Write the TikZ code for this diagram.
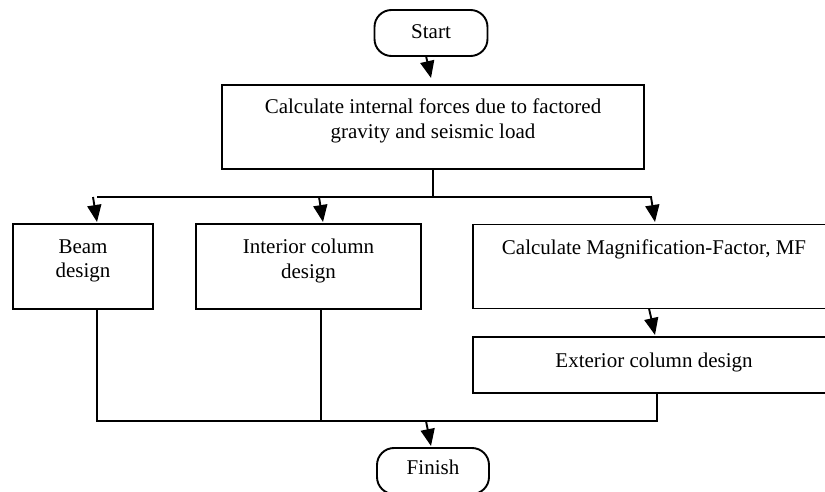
\documentclass[tikz,border=0pt]{standalone}
\usepackage{fontspec}
\setmainfont{Liberation Serif}
\usetikzlibrary{arrows.meta}
\begin{document}
\begin{tikzpicture}[x=1pt,y=-1pt,
  every node/.style={inner sep=0pt, outer sep=0pt},
  box/.style={draw, line width=1.9pt, rectangle},
  term/.style={draw, line width=1.9pt, rounded corners=17pt},
  txt/.style={font=\fontsize{21}{24.5}\selectfont, align=center},
  conn/.style={line width=1.9pt},
  arr/.style={line width=1.9pt, -{Triangle[length=17pt,width=14pt]}}
]
\useasboundingbox (0,0) rectangle (825,492);
\clip (0,0) rectangle (825,492);
% boxes
\node[term, minimum width=113pt, minimum height=46pt] (start) at (431,33) {};
\node[txt] (startt) at (431,32) {Start};
\node[box, minimum width=422pt, minimum height=84pt] (calc) at (433,127) {};
\node[txt] (calct) at (433,121) {Calculate internal forces due to factored\\gravity and seismic load};
\node[box, minimum width=140pt, minimum height=85pt] (beam) at (83,266.5) {};
\node[txt] (beamt) at (83,261) {Beam\\design};
\node[box, minimum width=225pt, minimum height=85pt] (inter) at (308.5,266.5) {};
\node[txt] (intert) at (308.5,261) {Interior column\\design};
\node[box, minimum width=362pt, minimum height=84pt] (mf) at (654,266.5) {};
\node[txt] (mft) at (654,249) {Calculate Magnification-Factor, MF};
\node[box, minimum width=362pt, minimum height=56pt] (ext) at (654,365) {};
\node[txt] (extt) at (654,362) {Exterior column design};
\node[term, minimum width=112pt, minimum height=46pt] (fin) at (433,471) {};
\node[txt] (fint) at (433,467) {Finish};
% junction coordinates
\coordinate (s1) at (426,56);
\coordinate (c1) at (433,169);
\coordinate (b0) at (433,197);
\coordinate (bl) at (97,197);
\coordinate (br) at (652,197);
\coordinate (a1) at (93,197);
\coordinate (a1t) at (97,222);
\coordinate (a2) at (319,197);
\coordinate (a2t) at (323,222);
\coordinate (a3) at (651,197);
\coordinate (a3t) at (655,222);
\coordinate (m1) at (649,308.5);
\coordinate (m1t) at (655,335);
\coordinate (d1) at (97,309);
\coordinate (d2) at (321,309);
\coordinate (d3) at (657,393);
\coordinate (e1) at (97,421);
\coordinate (e2) at (321,421);
\coordinate (e3) at (657,421);
\coordinate (f1) at (426,421);
\coordinate (f1t) at (431,446);
\coordinate (s1t) at (431,78);
% connectors
\draw[arr] (s1) -- (s1t);
\draw[conn] (c1) -- (b0);
\draw[conn] (bl) -- (br);
\draw[arr] (a1) -- (a1t);
\draw[arr] (a2) -- (a2t);
\draw[arr] (a3) -- (a3t);
\draw[arr] (m1) -- (m1t);
\draw[conn] (d1) -- (e1) -- (e3) -- (d3);
\draw[conn] (d2) -- (e2);
\draw[arr] (f1) -- (f1t);
\end{tikzpicture}
\end{document}
